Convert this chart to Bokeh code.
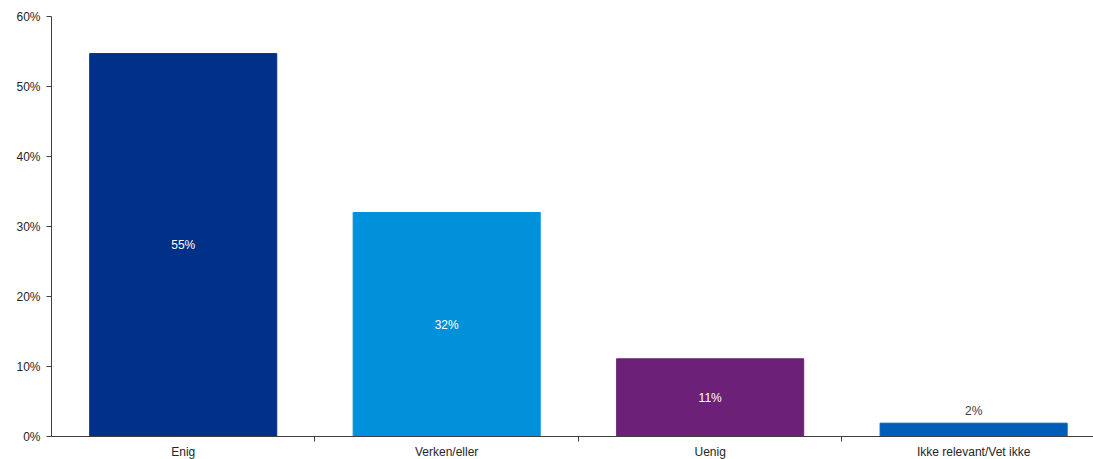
from bokeh.plotting import figure
from bokeh.models import ColumnDataSource, Range1d, FixedTicker, NumeralTickFormatter
from bokeh.core.properties import value
from bokeh.embed import file_html
from bokeh.resources import INLINE

categories = ["Enig", "Verken/eller", "Uenig", "Ikke relevant/Vet ikke"]
values = [0.547, 0.320, 0.111, 0.019]
labels = ["55%", "32%", "11%", "2%"]
colors = ["#003087", "#0091DA", "#6D2077", "#005EB8"]
inside = [True, True, True, False]

centers = [i + 0.5 for i in range(len(categories))]
label_y = [v / 2 if ins else v for v, ins in zip(values, inside)]
label_col = ["#FFFFFF" if ins else "#404040" for ins in inside]

src = ColumnDataSource(dict(x=centers, top=values, color=colors))

p = figure(frame_width=1042, frame_height=420, output_backend="svg", toolbar_location=None,
           x_range=Range1d(0, 3.955), y_range=Range1d(0, 0.6),
           min_border_left=51, min_border_right=0, min_border_top=16, min_border_bottom=0)
p.outline_line_color = None
p.xgrid.grid_line_color = None
p.ygrid.grid_line_color = None

p.vbar(x="x", top="top", bottom=0, width=0.71, color="color", source=src)

ins_idx = [i for i, s in enumerate(inside) if s]
out_idx = [i for i, s in enumerate(inside) if not s]
p.text(x="x", y="ly", text="lab", text_color="lc", text_align="center",
       text_baseline="middle", text_font_size="12px", text_font=value("Liberation Sans"),
       source=ColumnDataSource(dict(x=[centers[i] for i in ins_idx], ly=[label_y[i] for i in ins_idx],
                                    lab=[labels[i] for i in ins_idx], lc=[label_col[i] for i in ins_idx])))
p.text(x="x", y="ly", text="lab", text_color="lc", text_align="center",
       text_baseline="bottom", text_font_size="12px", y_offset=-5, text_font=value("Liberation Sans"),
       source=ColumnDataSource(dict(x=[centers[i] for i in out_idx], ly=[label_y[i] for i in out_idx],
                                    lab=[labels[i] for i in out_idx], lc=[label_col[i] for i in out_idx])))

xa = p.xaxis[0]
xa.ticker = FixedTicker(ticks=centers, minor_ticks=[1, 2, 3])
xa.major_label_overrides = {c: cat for c, cat in zip(centers, categories)}
xa.major_tick_line_color = None
xa.major_tick_out = 0
xa.major_tick_in = 0
xa.minor_tick_out = 5
xa.minor_tick_in = 0
xa.minor_tick_line_color = "#404040"
xa.axis_line_color = "#404040"
xa.major_label_text_font = "Liberation Sans"
xa.major_label_text_font_size = "12px"
xa.major_label_text_color = "#262626"
xa.major_label_standoff = 3

ya = p.yaxis[0]
ya.ticker = FixedTicker(ticks=[0, 0.1, 0.2, 0.3, 0.4, 0.5, 0.6])
ya.formatter = NumeralTickFormatter(format="0%")
ya.minor_tick_line_color = None
ya.major_tick_out = 5
ya.major_tick_in = 0
ya.major_tick_line_color = "#404040"
ya.axis_line_color = "#404040"
ya.major_label_text_font = "Liberation Sans"
ya.major_label_text_font_size = "12px"
ya.major_label_text_color = "#262626"
ya.major_label_standoff = 6

open("out.html", "w").write(file_html(p, INLINE))
